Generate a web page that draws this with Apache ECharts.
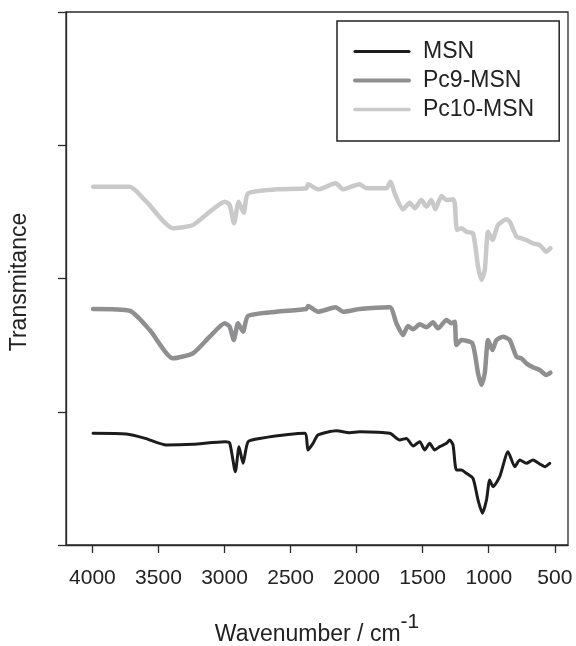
<!DOCTYPE html>
<html>
<head>
<meta charset="utf-8">
<script src="https://cdn.jsdelivr.net/npm/echarts@6/dist/echarts.min.js"></script>
<style>
  html, body { margin: 0; padding: 0; background: #fff; }
  #chart { width: 576px; height: 646px; }
</style>
</head>
<body>
<div id="chart"></div>
<script>
// FTIR spectra, stacked with vertical offsets (arbitrary transmittance units)
const seriesNames = ['MSN', 'Pc9-MSN', 'Pc10-MSN'];
const xTicks = [4000, 3500, 3000, 2500, 2000, 1500, 1000, 500];

// [wavenumber (cm^-1), transmittance]
const msn = [
  [3995, 0.838], [3743, 0.833], [3600, 0.80], [3440, 0.750], [3238, 0.756], [2998, 0.775],
  [2961, 0.765], [2918, 0.550], [2890, 0.738], [2860, 0.613], [2822, 0.775],
  [2734, 0.800], [2393, 0.838], [2368, 0.713], [2330, 0.763], [2292, 0.826],
  [2153, 0.858], [2052, 0.843], [1977, 0.850], [1749, 0.838], [1674, 0.788],
  [1623, 0.800], [1573, 0.743], [1522, 0.775], [1485, 0.713], [1447, 0.763],
  [1409, 0.713], [1371, 0.738], [1320, 0.763], [1295, 0.788], [1270, 0.750],
  [1245, 0.563], [1207, 0.563], [1169, 0.538], [1119, 0.500], [1081, 0.338],
  [1048, 0.238], [1017, 0.338], [993, 0.488], [967, 0.438], [917, 0.513],
  [854, 0.700], [803, 0.588], [765, 0.638], [715, 0.613], [665, 0.638],
  [614, 0.608], [576, 0.588], [538, 0.613]
];

const pc9 = [
  [3995, 1.771], [3718, 1.758], [3566, 1.613], [3390, 1.401], [3238, 1.439],
  [3112, 1.563], [2998, 1.664], [2961, 1.638], [2930, 1.538], [2898, 1.664],
  [2860, 1.601], [2822, 1.719], [2607, 1.751], [2380, 1.771], [2368, 1.794],
  [2292, 1.751], [2158, 1.784], [2103, 1.751], [1977, 1.771], [1749, 1.784],
  [1699, 1.664], [1649, 1.576], [1611, 1.644], [1573, 1.619], [1522, 1.656],
  [1472, 1.634], [1422, 1.671], [1384, 1.626], [1320, 1.689], [1282, 1.664],
  [1257, 1.676], [1245, 1.501], [1207, 1.538], [1124, 1.514], [1081, 1.289],
  [1055, 1.201], [1030, 1.289], [1005, 1.538], [972, 1.463], [942, 1.538],
  [892, 1.563], [841, 1.538], [790, 1.413], [753, 1.401], [715, 1.363],
  [665, 1.334], [614, 1.313], [564, 1.276], [533, 1.293]
];

const pc10 = [
  [3995, 2.689], [3718, 2.689], [3591, 2.576], [3390, 2.377], [3238, 2.402],
  [3112, 2.501], [2998, 2.576], [2961, 2.552], [2928, 2.414], [2893, 2.576],
  [2855, 2.494], [2822, 2.639], [2607, 2.669], [2380, 2.677], [2368, 2.707],
  [2292, 2.669], [2158, 2.714], [2103, 2.669], [2027, 2.694], [1977, 2.707],
  [1926, 2.677], [1775, 2.677], [1744, 2.727], [1712, 2.639], [1649, 2.519],
  [1598, 2.569], [1560, 2.527], [1510, 2.589], [1472, 2.539], [1434, 2.589],
  [1404, 2.519], [1358, 2.619], [1320, 2.589], [1270, 2.594], [1257, 2.564],
  [1240, 2.364], [1207, 2.377], [1169, 2.351], [1119, 2.339], [1081, 2.089],
  [1055, 1.989], [1030, 2.064], [1005, 2.351], [972, 2.289], [930, 2.402],
  [866, 2.444], [841, 2.426], [790, 2.314], [753, 2.302], [715, 2.289],
  [665, 2.264], [614, 2.251], [564, 2.201], [533, 2.227]
];

const FONT = '"Liberation Sans", Arial, sans-serif';
const INK = '#222';
const AXIS = '#2a2a2a';
const COLORS = ['#1c1c1c', '#8f8f92', '#c9c9c9'];

const chart = echarts.init(document.getElementById('chart'), null, { renderer: 'canvas' });

const lineSeries = (name, data, color, width) => ({
  name, type: 'line', data,
  showSymbol: false, symbol: 'none',
  smooth: 0.2,
  lineStyle: { color, width, join: 'round', cap: 'round' },
  itemStyle: { color },
  animation: false
});

chart.setOption({
  animation: false,
  grid: {
    left: 66, right: 8, top: 12, bottom: 101,
    containLabel: false,
    outerBoundsMode: 'none',
    show: true, borderColor: AXIS, borderWidth: 1.3, backgroundColor: '#fff'
  },
  legend: {
    orient: 'vertical',
    left: 337, top: 21,
    padding: [19, 25, 20, 16],
    itemGap: 6,
    itemWidth: 54, itemHeight: 21,
    borderColor: '#222', borderWidth: 1.5,
    // hide the marker dot, keep only the line sample
    itemStyle: { color: 'rgba(0,0,0,0)', borderWidth: 0 },
    textStyle: { fontFamily: FONT, fontSize: 23, color: INK, padding: [0, 0, 0, 9] },
    data: [
      { name: seriesNames[0], lineStyle: { width: 3.2, color: COLORS[0] } },
      { name: seriesNames[1], lineStyle: { width: 4, color: COLORS[1] } },
      { name: seriesNames[2], lineStyle: { width: 3.5, color: COLORS[2] } }
    ]
  },
  xAxis: {
    type: 'value',
    inverse: true,
    min: 400, max: 4200,
    splitLine: { show: false },
    axisLine: { show: true, onZero: false, lineStyle: { color: AXIS, width: 1.3 } },
    axisTick: { show: true, inside: false, length: 8, customValues: xTicks, lineStyle: { color: AXIS, width: 1.3 } },
    axisLabel: {
      customValues: xTicks, margin: 23, fontFamily: FONT, fontSize: 21, color: INK,
      formatter: v => String(v)
    },
    name: '{t|Wavenumber / cm}{s|-1}',
    nameLocation: 'middle',
    nameGap: 67,
    nameTextStyle: {
      fontFamily: FONT, color: INK,
      rich: {
        t: { fontFamily: FONT, fontSize: 23, color: INK, lineHeight: 34, verticalAlign: 'bottom' },
        s: { fontFamily: FONT, fontSize: 21, color: INK, lineHeight: 20, verticalAlign: 'top' }
      }
    }
  },
  yAxis: {
    type: 'value',
    min: 0, max: 4, interval: 1,
    splitLine: { show: false },
    axisLine: { show: true, onZero: false, lineStyle: { color: AXIS, width: 1.3 } },
    axisTick: { show: true, inside: false, length: 8, lineStyle: { color: AXIS, width: 1.3 } },
    axisLabel: { show: false },
    name: 'Transmitance',
    nameLocation: 'middle',
    nameGap: 35,
    nameTextStyle: { fontFamily: FONT, fontSize: 23, color: INK, padding: [0, 7, 0, 0] }
  },
  series: [
    lineSeries(seriesNames[0], msn, COLORS[0], 3),
    lineSeries(seriesNames[1], pc9, COLORS[1], 4.5),
    lineSeries(seriesNames[2], pc10, COLORS[2], 4.5)
  ]
});
</script>
</body>
</html>
